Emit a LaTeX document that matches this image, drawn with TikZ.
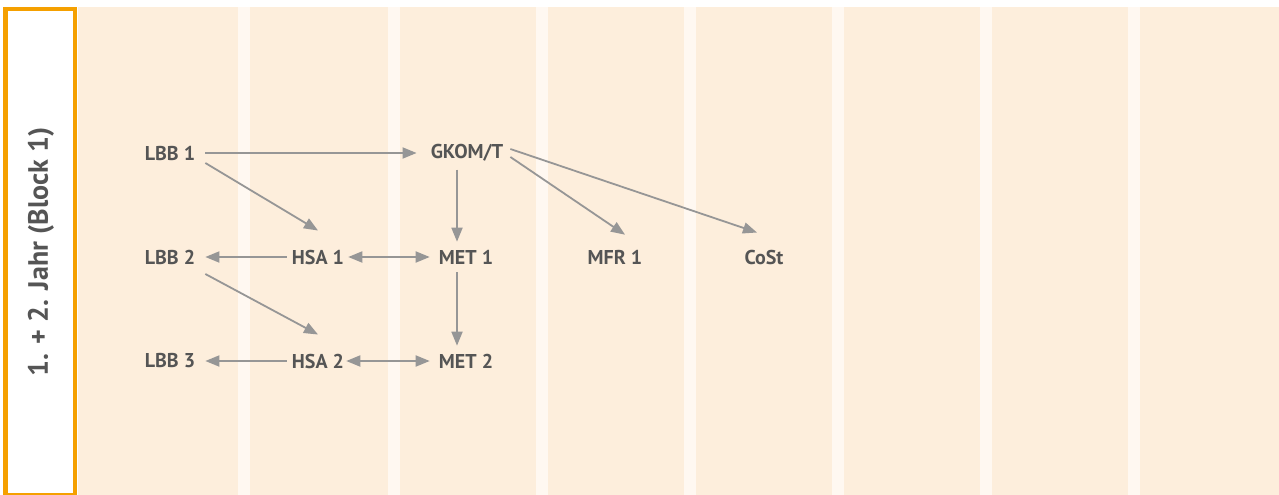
\documentclass[tikz,border=0pt]{standalone}
\usepackage{fontspec}
\setmainfont{PT Sans}
\usetikzlibrary{arrows.meta,calc}
\definecolor{colbg}{RGB}{253,238,220}
\definecolor{sepbg}{RGB}{255,248,241}
\definecolor{boxor}{RGB}{245,160,0}
\definecolor{txtgray}{RGB}{85,85,85}
\definecolor{arrgray}{RGB}{150,150,150}
\tikzset{
  lbl/.style={font=\fontsize{20}{23}\selectfont\bfseries, text=txtgray, inner sep=0pt},
  arr/.style={draw=arrgray, line width=1.8pt, -{Triangle[length=14pt,width=11pt]}},
  darr/.style={draw=arrgray, line width=1.8pt, {Triangle[length=14pt,width=11pt]}-{Triangle[length=14pt,width=11pt]}}
}
\begin{document}
\begin{tikzpicture}[x=1pt,y=-1pt]
\useasboundingbox (0,0) rectangle (1279,495);
\fill[white] (0,0) rectangle (1279,495);
% background columns
\fill[sepbg] (78,7) rectangle (1279,495);
\foreach \a/\b in {78/238,250/388,400/536,548/684,696/832,844/980,992/1128,1140/1279}{
  \fill[colbg] (\a,7) rectangle (\b,495);
}
% orange box
\draw[boxor, line width=4.5pt, fill=white] (5.5,9) rectangle (75,495);
\node[lbl, font=\fontsize{28}{31}\selectfont\bfseries, rotate=90] (title) at (41,252) {1. + 2. Jahr (Block 1)};
% nodes
\node[lbl] (lbb1) at (170,153) {LBB 1};
\node[lbl] (lbb2) at (170,257) {LBB 2};
\node[lbl] (lbb3) at (170,361) {LBB 3};
\node[lbl] (hsa1) at (318,257) {HSA 1};
\node[lbl] (hsa2) at (318,361) {HSA 2};
\node[lbl] (gkom) at (467,153) {GKOM/T};
\node[lbl] (met1) at (466,257) {MET 1};
\node[lbl] (met2) at (466,361) {MET 2};
\node[lbl] (mfr1) at (615,257) {MFR 1};
\node[lbl] (cost) at (764,257) {CoSt};
% connectors
\draw[arr] ($(lbb1.east)+(10,0)$) -- ($(gkom.west)+(-14,0)$);
\draw[arr] ($(lbb1.east)+(10,10)$) -- ($(hsa1.north)+(0,-19)$);
\draw[arr] ($(hsa1.west)+(-5,0)$) -- ($(lbb2.east)+(10,0)$);
\draw[darr] ($(hsa1.east)+(4,0)$) -- ($(met1.west)+(-9,0)$);
\draw[arr] ($(gkom.south)+(-10,8)$) -- ($(met1.north)+(-9,-8)$);
\draw[arr] ($(met1.south)+(-9,8)$) -- ($(met2.north)+(-9,-8)$);
\draw[arr] ($(lbb2.east)+(10,17)$) -- ($(hsa2.north)+(0,-19)$);
\draw[arr] ($(hsa2.west)+(-5,0)$) -- ($(lbb3.east)+(10,0)$);
\draw[darr] ($(hsa2.east)+(2,0)$) -- ($(met2.west)+(-9,0)$);
\draw[arr] ($(gkom.east)+(7,4)$) -- ($(mfr1.north)+(10,-15)$);
\draw[arr] ($(gkom.east)+(7,-4)$) -- ($(cost.north)+(-7,-17)$);
\end{tikzpicture}
\end{document}
